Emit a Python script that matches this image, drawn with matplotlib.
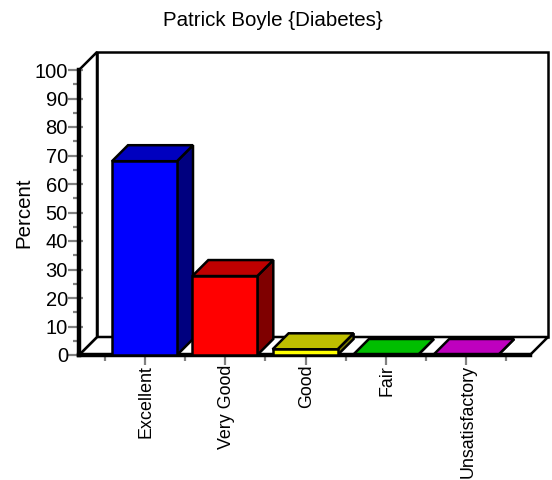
import matplotlib
matplotlib.use("Agg")
import matplotlib.pyplot as plt
from matplotlib.patches import Polygon
from matplotlib.transforms import ScaledTranslation

plt.rcParams['font.family'] = ['Liberation Sans', 'DejaVu Sans']

title = "Patrick Boyle {Diabetes}"
ylabel = "Percent"
categories = ["Excellent", "Very Good", "Good", "Fair", "Unsatisfactory"]
values = [68, 27.7, 2, 0, 0]
front_colors = ["#0000ff", "#ff0000", "#ffff00", "#00ff00", "#bf00bf"]
top_colors = ["#0000bf", "#bf0000", "#bfbf00", "#00bf00", "#bf00bf"]
side_colors = ["#00007f", "#7f0000", "#7f7f00", "#007f00", "#7f007f"]
yticks = list(range(0, 101, 10))
yminor = list(range(5, 100, 10))

W, H = 552, 480
fig = plt.figure(figsize=(W / 100, H / 100), dpi=100, facecolor="white")
L, R, B, T = 79, 530, 355, 70
ax = fig.add_axes([L / W, 1 - B / H, (R - L) / W, (B - T) / H])
step = 80.3
ax.set_xlim((L - 145) / step, (R - 145) / step)
ax.set_ylim(0, 100)
ax.patch.set_alpha(0)
xu = 1 / step       # one pixel in x data units
yu = 100 / (B - T)  # one pixel in y data units
x0, x1 = ax.get_xlim()
wd = 18
LW = 1.8

def poly(pts, fc="none", lw=LW, z=2, **kw):
    ax.add_patch(Polygon(pts, closed=True, facecolor=fc, edgecolor="black",
                         linewidth=lw, zorder=z, clip_on=False,
                         joinstyle="miter", **kw))

# back wall and floor
dx, dy = wd * xu, wd * yu
poly([(x0 + dx, dy), (x1 + dx, dy), (x1 + dx, 100 + dy), (x0 + dx, 100 + dy)], fc="white", z=1)
poly([(x0, 0), (x1, 0), (x1 + dx, dy), (x0 + dx, dy)], fc="white", z=1)
poly([(x0, 0), (x0, 100), (x0 + dx, 100 + dy), (x0 + dx, dy)], fc="white", z=1)

# bars
bw = 65 / step
bd = 16
for i, v in enumerate(values):
    a, b = i - 33 / step, i - 33 / step + bw
    ox, oy = bd * xu, bd * yu
    poly([(b, 0), (b + ox, oy), (b + ox, v + oy), (b, v)], fc=side_colors[i], z=3)
    poly([(a, v), (b, v), (b + ox, v + oy), (a + ox, v + oy)], fc=top_colors[i], z=3)
    poly([(a, 0), (b, 0), (b, v), (a, v)], fc=front_colors[i], z=4)

# axes styling
for s in ("top", "right"):
    ax.spines[s].set_visible(False)
ax.spines["left"].set_linewidth(3.2)
ax.spines["bottom"].set_linewidth(3.2)
ax.spines["left"].set_zorder(6)
ax.spines["bottom"].set_zorder(3.5)
ax.spines["bottom"].set_capstyle("projecting")
ax.spines["left"].set_capstyle("projecting")

ax.set_yticks(yticks)
ax.set_yticks(yminor, minor=True)
ax.tick_params(axis="y", which="major", length=8, width=1.6, color="#808080",
               labelsize=14.5, pad=0, labelcolor="black")
ax.tick_params(axis="y", which="minor", length=4, width=1.6, color="#808080")
# small part of each tick that shows on the inner side of the thick axis line
ax.hlines(yticks[1:], x0, x0 + 4 * xu, color="#808080", lw=1.6, zorder=5, clip_on=False)
xminor = [i - 0.5 for i in range(len(categories) + 1)]
ax.set_xticks(range(len(categories)))
ax.set_xticks(xminor, minor=True)
ax.set_xticklabels(categories, rotation=90, fontsize=12.9, va="top", ha="center")
ax.tick_params(axis="x", which="major", length=7, width=1.6, color="#808080", pad=0)
ax.tick_params(axis="x", which="minor", length=4, width=1.6, color="#808080")
shift = ScaledTranslation(1.5 / 100, 0, fig.dpi_scale_trans)
for lab in ax.get_xticklabels():
    lab.set_transform(lab.get_transform() + shift)

fig.text(272.5 / W, 1 - 20 / H, title, ha="center", va="center", fontsize=14.8)
fig.text(23.5 / W, 1 - 212.5 / H, ylabel, ha="center", va="center", rotation=90, fontsize=14.8)

fig.savefig("out.png", dpi=100)
